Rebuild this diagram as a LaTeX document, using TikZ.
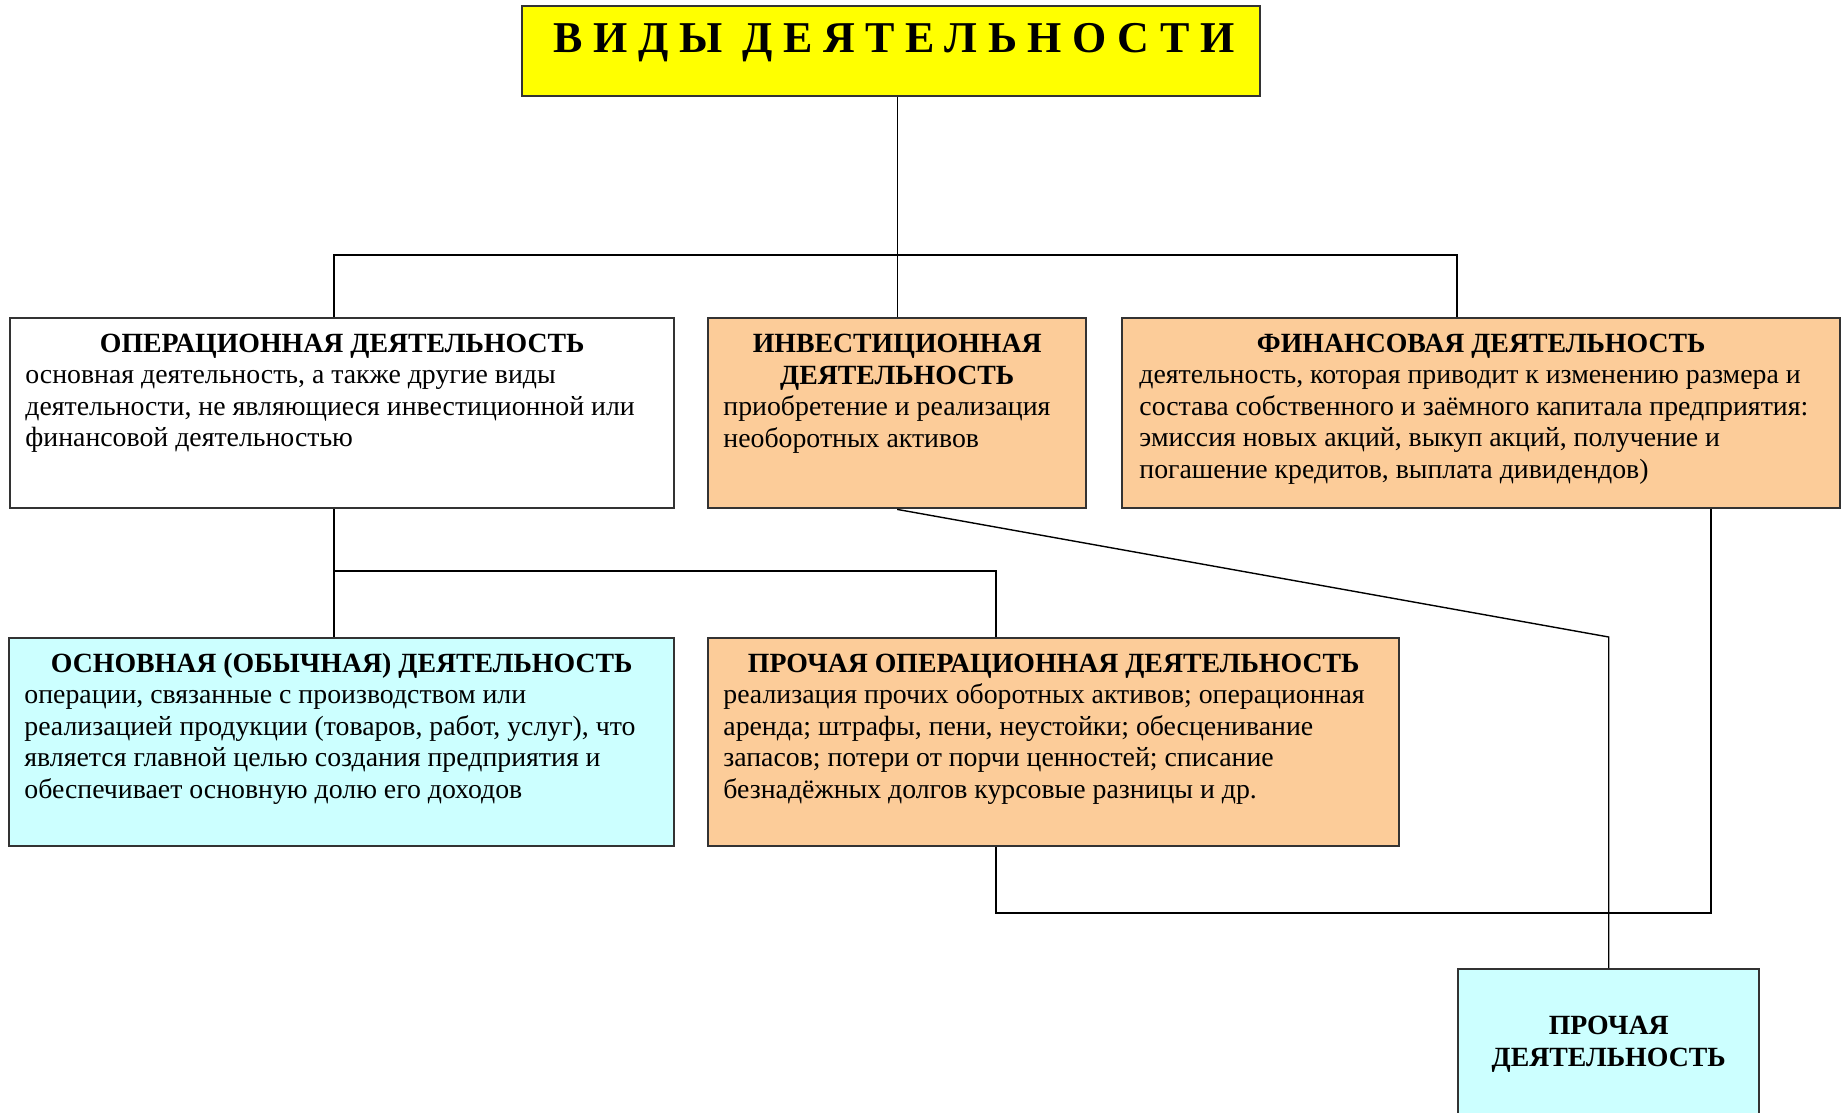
\documentclass[tikz,border=0pt]{standalone}
\usepackage{fontspec}
\setmainfont{Liberation Serif}
\definecolor{peach}{RGB}{252,204,153}
\definecolor{paleblue}{RGB}{204,255,255}
\definecolor{titleyellow}{RGB}{255,255,0}
\tikzset{
  box/.style={draw=black!80, line width=1.2pt, anchor=north west, inner sep=0pt},
  head/.style={anchor=north, inner sep=0pt, align=center, font=\fontsize{13.9}{15.85}\selectfont\bfseries},
  body/.style={anchor=north west, inner sep=0pt, align=left, font=\fontsize{13.9}{15.85}\selectfont},
  link/.style={draw=black, line width=0.7pt},
}
\begin{document}
\begin{tikzpicture}[x=0.5pt,y=-0.5pt]
\useasboundingbox (0,0) rectangle (1841,1113);
% title
\node[box, anchor=center, fill=titleyellow, minimum width=369pt, minimum height=45pt] (vidy) at (891,51) {};
\node[anchor=base, inner sep=0pt, font={\fontsize{22}{26}\selectfont\bfseries\addfontfeature{LetterSpace=24}}] (vidytxt) at (894,53) {ВИДЫ\hspace{10pt}ДЕЯТЕЛЬНОСТИ};
% boxes, first row
\node[box, minimum width=332pt, minimum height=95pt] (op) at (9,317) {};
\node[box, fill=peach, minimum width=189pt, minimum height=95pt] (inv) at (707,317) {};
\node[box, fill=peach, minimum width=359pt, minimum height=95pt] (fin) at (1121,317) {};
% boxes, second row
\node[box, fill=paleblue, minimum width=332.5pt, minimum height=104pt] (basic) at (8,637) {};
\node[box, fill=peach, minimum width=345.5pt, minimum height=104pt] (otherop) at (707,637) {};
\node[box, fill=paleblue, minimum width=150.5pt, minimum height=80pt] (other) at (1457,968) {};
% texts
\node[head] (opHead) at ([shift={(0,13)}]op.north) {\strut ОПЕРАЦИОННАЯ ДЕЯТЕЛЬНОСТЬ};
\node[body] (opBody) at ([shift={(16,44)}]op.north west) {\strut основная деятельность, а также другие виды\\деятельности, не являющиеся инвестиционной или\\финансовой деятельностью};
\node[head] (invHead) at ([shift={(0,13)}]inv.north) {\strut ИНВЕСТИЦИОННАЯ\\ДЕЯТЕЛЬНОСТЬ};
\node[body] (invBody) at ([shift={(16,76)}]inv.north west) {\strut приобретение и реализация\\необоротных активов};
\node[head] (finHead) at ([shift={(0,13)}]fin.north) {\strut ФИНАНСОВАЯ ДЕЯТЕЛЬНОСТЬ};
\node[body] (finBody) at ([shift={(18,44)}]fin.north west) {\strut деятельность, которая приводит к изменению размера и\\состава собственного и заёмного капитала предприятия:\\эмиссия новых акций, выкуп акций, получение и\\погашение кредитов, выплата дивидендов)};
\node[head] (basicHead) at ([shift={(0,13)}]basic.north) {\strut ОСНОВНАЯ (ОБЫЧНАЯ) ДЕЯТЕЛЬНОСТЬ};
\node[body] (basicBody) at ([shift={(16,44)}]basic.north west) {\strut операции, связанные с производством или\\реализацией продукции (товаров, работ, услуг), что\\является главной целью создания предприятия и\\обеспечивает основную долю его доходов};
\node[head] (otheropHead) at ([shift={(0,13)}]otherop.north) {\strut ПРОЧАЯ ОПЕРАЦИОННАЯ ДЕЯТЕЛЬНОСТЬ};
\node[body] (otheropBody) at ([shift={(16,44)}]otherop.north west) {\strut реализация прочих оборотных активов; операционная\\аренда; штрафы, пени, неустойки; обесценивание\\запасов; потери от порчи ценностей; списание\\безнадёжных долгов курсовые разницы и др.};
\node[head] (otherHead) at ([shift={(0,44)}]other.north) {\strut ПРОЧАЯ\\ДЕЯТЕЛЬНОСТЬ};
% junctions
\coordinate (jL) at (334,255);
\coordinate (jR) at (1457,255);
\coordinate (jM) at (334,571);
\coordinate (jO) at (996,571);
\coordinate (jB) at (1711,913);
% connectors
\draw[link] (vidy.south -| inv.north) -- (inv.north);
\draw[link] (op.north -| jL) -- (jL) -- (jR) -- (fin.north -| jR);
\draw[link] (op.south -| jM) -- (basic.north -| jM);
\draw[link] (jM) -- (jO) -- (otherop.north -| jO);
\draw[link] (inv.south) -- (other.north |- otherop.north) -- (other.north);
\draw[link] (fin.south -| jB) -- (jB) -- (jB -| jO) -- (otherop.south -| jO);
\end{tikzpicture}
\end{document}
